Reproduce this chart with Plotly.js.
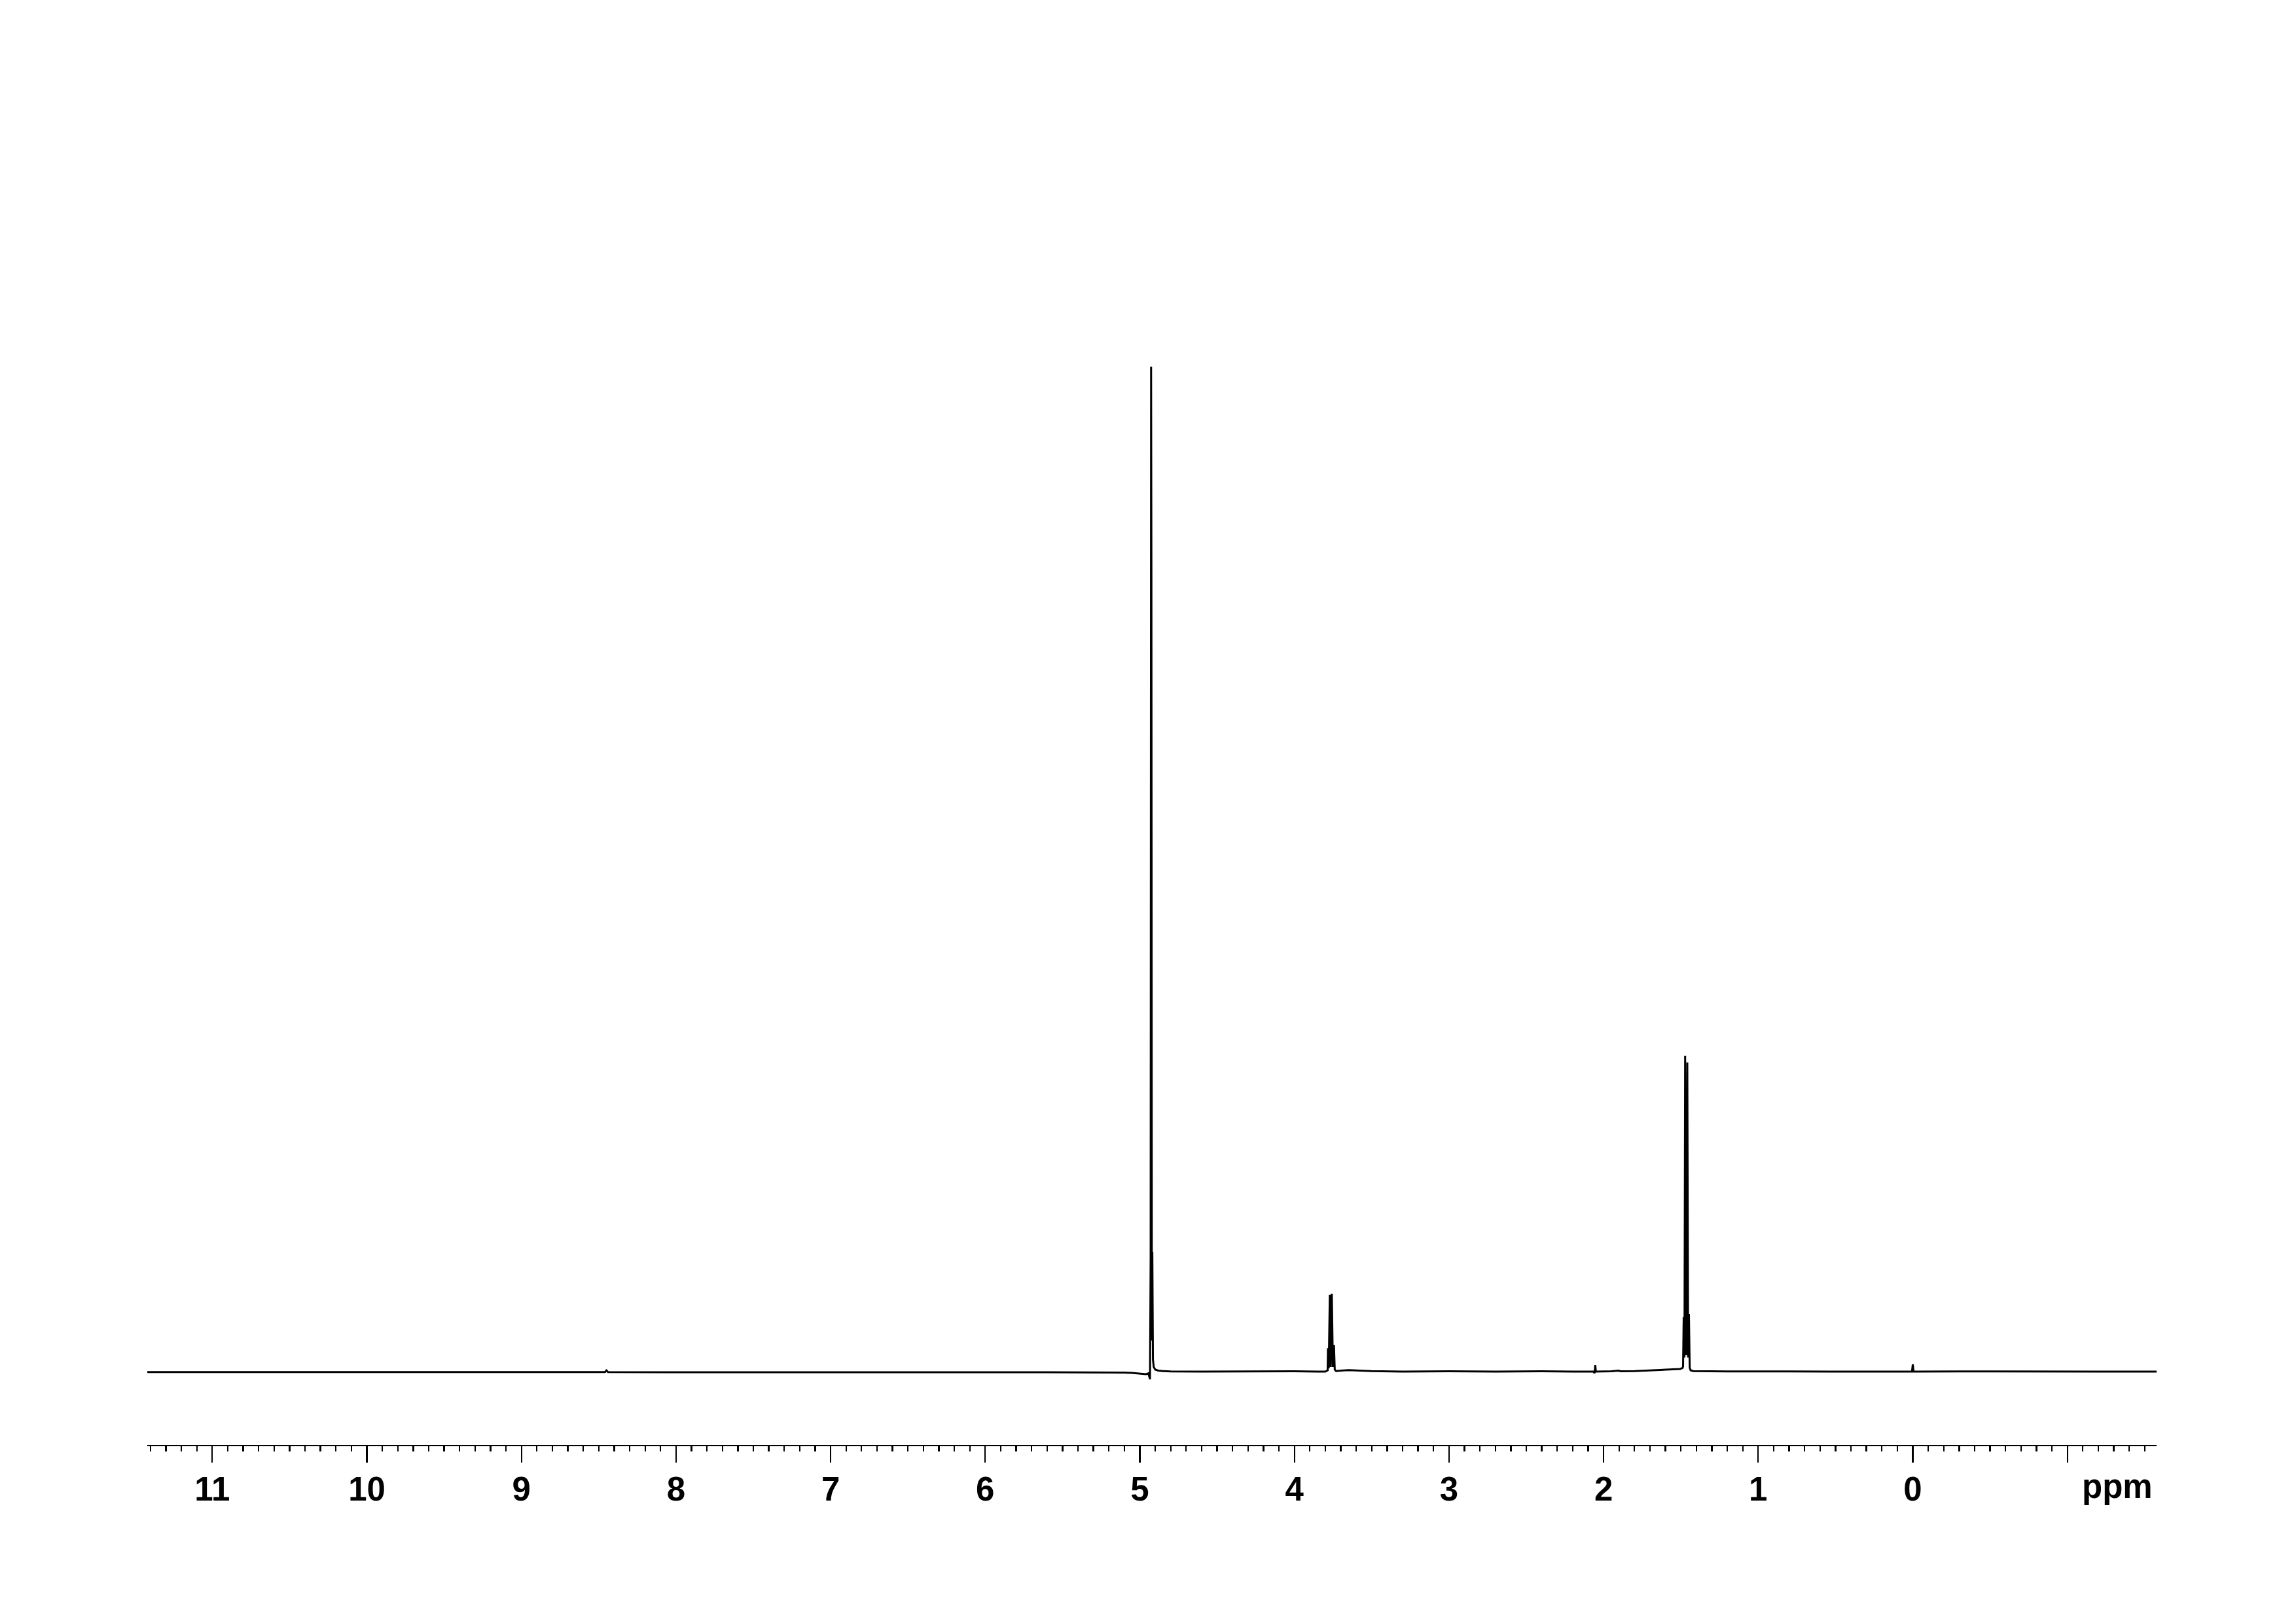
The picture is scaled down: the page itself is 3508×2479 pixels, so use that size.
<!DOCTYPE html>
<html>
<head>
<meta charset="utf-8">
<script src="https://cdn.plot.ly/plotly-3.0.1.min.js"></script>
<style>
  html, body { margin: 0; padding: 0; background: #ffffff; }
  #chart { width: 3508px; height: 2479px; }
</style>
</head>
<body>
<div id="chart"></div>
<script>
// Chemical shift (ppm) and relative intensity (tallest peak = 100)
const ppm = [
  11.42, 11.0, 10.6, 10.2, 9.8, 9.4, 9.0, 8.6, 8.46, 8.45, 8.44, 8.0, 7.6, 7.2, 6.8, 6.4, 6.0, 5.6, 5.3, 5.18,
  5.10, 5.05, 5.00, 4.96, 4.945, 4.934, 4.930, 4.927, 4.925, 4.922, 4.919, 4.915, 4.910, 4.900, 4.880, 4.850,
  4.800, 4.6, 4.4, 4.2, 4.0, 3.85, 3.80, 3.785, 3.783, 3.778, 3.771, 3.765, 3.758, 3.751, 3.744, 3.739,
  3.73, 3.70, 3.65, 3.60, 3.50, 3.3, 3.0, 2.7, 2.4, 2.2, 2.065, 2.058, 2.054, 2.050, 1.95, 1.904, 1.89,
  1.80, 1.70, 1.607, 1.506, 1.490, 1.486, 1.482, 1.477, 1.4725, 1.465, 1.4585, 1.453, 1.448, 1.443, 1.437,
  1.42, 1.2, 1.0, 0.8, 0.5, 0.2, 0.005, 0.0, -0.005, -0.3, -0.6, -0.9, -1.2, -1.577
];
const intensity = [
  -0.05, -0.05, -0.03, -0.07, -0.05, -0.05, -0.07, -0.05, -0.05, 0.12, -0.05, -0.07, -0.05, -0.07, -0.07, -0.05, -0.07, -0.07, -0.08, -0.07,
  -0.10, -0.13, -0.22, -0.26, -0.18, -0.76, 11.4, 100, 80.4, 3.1, 11.9, 1.2, 0.46, 0.2, 0.1, 0.05,
  0.02, 0.0, 0.02, 0.0, 0.03, 0.0, 0.0, 0.13, 2.33, 0.33, 7.64, 0.46, 7.75, 0.46, 2.65, 0.2,
  0.05, 0.1, 0.15, 0.12, 0.05, 0.0, 0.03, 0.0, 0.03, 0.0, 0.0, -0.15, 0.65, 0.0, 0.03, 0.1, 0.03,
  0.05, 0.12, 0.22, 0.26, 0.35, 0.5, 5.43, 1.4, 31.41, 1.63, 30.76, 1.4, 5.74, 0.4, 0.13,
  0.05, 0.02, 0.0, 0.02, 0.0, 0.02, 0.0, 0.72, 0.0, 0.02, 0.0, 0.02, 0.0, 0.0
];
const tickValues = [11, 10, 9, 8, 7, 6, 5, 4, 3, 2, 1, 0, -1];
const tickLabels = ['11', '10', '9', '8', '7', '6', '5', '4', '3', '2', '1', '0', ''];
const axisUnit = 'ppm';

const labelFont = {
  family: '"Liberation Sans", Arial, Helvetica, sans-serif',
  size: 51, color: '#000000', weight: 'bold'
};

const trace = {
  x: ppm, y: intensity, type: 'scatter', mode: 'lines',
  line: { color: '#000000', width: 3 },
  hoverinfo: 'skip', showlegend: false
};

const layout = {
  width: 3508, height: 2479,
  margin: { l: 225, r: 213, t: 479, b: 272, pad: 0 },
  paper_bgcolor: '#ffffff', plot_bgcolor: '#ffffff',
  showlegend: false,
  xaxis: {
    range: [11.4204, -1.5771],
    tickmode: 'array', tickvals: tickValues, ticktext: tickLabels,
    ticks: 'outside', ticklen: 25, tickwidth: 2.3, tickcolor: '#000000',
    minor: { tickmode: 'linear', tick0: 0, dtick: 0.1, ticks: 'outside', ticklen: 8, tickwidth: 2.3, tickcolor: '#000000', showgrid: false },
    showline: true, linewidth: 2.3, linecolor: '#000000',
    showgrid: false, zeroline: false,
    tickfont: labelFont,
    ticklabelstandoff: -4,
    fixedrange: true
  },
  yaxis: {
    range: [-7.296, 105.277],
    visible: false, showgrid: false, zeroline: false, fixedrange: true
  },
  annotations: [{
    text: axisUnit, xref: 'paper', yref: 'paper', x: 0.9987, y: -0.0365,
    xanchor: 'right', yanchor: 'middle', showarrow: false,
    font: labelFont
  }]
};

Plotly.newPlot('chart', [trace], layout, { displayModeBar: false, staticPlot: true });
</script>
</body>
</html>
